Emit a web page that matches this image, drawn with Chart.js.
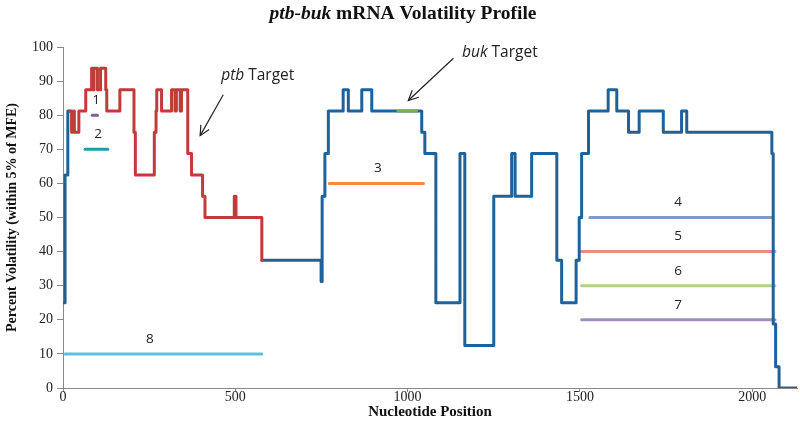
<!DOCTYPE html>
<html><head><meta charset="utf-8">
<script src="https://cdn.jsdelivr.net/npm/chart.js@4/dist/chart.umd.min.js"></script>
<style>html,body{margin:0;padding:0;background:#fff}#c{display:block}</style>
</head><body>
<canvas id="c" width="800" height="441"></canvas>
<script>
// ---- axis ticks ----
const xTickValues = [0, 500, 1000, 1500, 2000];
const yTickValues = [0, 10, 20, 30, 40, 50, 60, 70, 80, 90, 100];

// ---- volatility profile (step starts: position, level) ----
const leadPos = [0, 6, 14, 20];
const leadVal = [25, 62.5, 81.25, 81.25];

const ptbPos = [20, 25, 30, 33, 46, 66, 83, 88, 90, 100, 109, 124, 127, 165, 206, 210, 265, 270, 272, 286, 315, 325, 329, 340, 344, 362, 373, 405, 412, 497, 502, 577];
const ptbVal = [81.25, 75, 81.25, 75, 81.25, 87.5, 93.75, 87.5, 93.75, 87.5, 93.75, 87.5, 81.25, 87.5, 75, 62.5, 75, 81.25, 87.5, 81.25, 87.5, 81.25, 87.5, 81.25, 87.5, 68.75, 62.5, 56.25, 50, 56.25, 50, 37.5];

const restPos = [577, 749, 752, 760, 770, 813, 828, 867, 896, 1041, 1050, 1082, 1152, 1166, 1250, 1302, 1312, 1360, 1433, 1447, 1489, 1498, 1505, 1525, 1582, 1607, 1641, 1672, 1742, 1795, 1810, 2057, 2061, 2068, 2078, 2129];
const restVal = [37.5, 31.25, 56.25, 68.75, 81.25, 87.5, 81.25, 87.5, 81.25, 75, 68.75, 25, 68.75, 12.5, 56.25, 68.75, 56.25, 68.75, 37.5, 25, 37.5, 50, 68.75, 81.25, 87.5, 81.25, 75, 81.25, 75, 81.25, 75, 68.75, 18.75, 6.25, 0, 0];

const bukPos = [972, 1026];
const bukVal = [81.25, 81.25];

// ---- numbered regions ----
const regionNames = ['1', '2', '3', '4', '5', '6', '7', '8'];
const regionStart = [85, 64, 773, 1529, 1505, 1505, 1505, 6];
const regionEnd = [100, 130, 1046, 2057, 2066, 2066, 2066, 577];
const regionLevel = [80, 70, 60, 50, 40, 30, 20, 10];
const regionLabelPos = [96, 102, 914, 1785, 1785, 1785, 1785, 252];
const regionColors = ['#7d60a0', '#1f9bab', '#f5893d', '#7f9bc8', '#ee8b88', '#b3cf8c', '#a18ebd', '#62bfdc'];

// ---- annotations ----
const ptbArrowFrom = [465, 86], ptbArrowTo = [398, 74], ptbTextAt = [459, 91.5];
const bukArrowFrom = [1133, 96.7], bukArrowTo = [1002, 84.3], bukTextAt = [1158, 98.5];

const pts = (xs, ys) => xs.map((x, i) => ({ x: x, y: ys[i] }));
const BLUE = '#1f629a', RED = '#c23b3b', GREEN = '#82aa4e';

const datasets = [];
const lineStyle = { pointRadius: 0, borderWidth: 3, stepped: true, fill: false, borderJoinStyle: 'round', borderCapStyle: 'round' };
datasets.push(Object.assign({ label: 'lead', data: pts(leadPos, leadVal), borderColor: BLUE, order: 1 }, lineStyle));
datasets.push(Object.assign({ label: 'rest', data: pts(restPos, restVal), borderColor: BLUE, order: 1 }, lineStyle));
datasets.push(Object.assign({ label: 'ptb', data: pts(ptbPos, ptbVal), borderColor: RED, order: 0 }, lineStyle));
datasets.push(Object.assign({ label: 'buk', data: pts(bukPos, bukVal), borderColor: GREEN, order: -1 }, lineStyle));
regionNames.forEach((n, i) => {
  datasets.push({ label: 'region ' + n, data: [{ x: regionStart[i], y: regionLevel[i] }, { x: regionEnd[i], y: regionLevel[i] }],
    borderColor: regionColors[i], borderWidth: 3, pointRadius: 0, borderCapStyle: 'round', order: 2 });
});

function drawRuns(ctx, runs, x, y, align) {
  let total = 0;
  runs.forEach(r => { ctx.font = r.font; r.w = ctx.measureText(r.text).width; total += r.w; });
  let cx = align === 'center' ? x - total / 2 : x;
  ctx.textAlign = 'left';
  runs.forEach(r => { ctx.font = r.font; ctx.fillText(r.text, cx, y); cx += r.w; });
}
function arrow(ctx, x1, y1, x2, y2) {
  ctx.beginPath(); ctx.moveTo(x1, y1); ctx.lineTo(x2, y2); ctx.stroke();
  const a = Math.atan2(y2 - y1, x2 - x1), L = 11, s = 0.45;
  ctx.beginPath();
  ctx.moveTo(x2 - L * Math.cos(a - s), y2 - L * Math.sin(a - s));
  ctx.lineTo(x2, y2);
  ctx.lineTo(x2 - L * Math.cos(a + s), y2 - L * Math.sin(a + s));
  ctx.stroke();
}

const textPlugin = {
  id: 'texts',
  afterDraw(chart) {
    const { ctx } = chart, x = chart.scales.x, y = chart.scales.y;
    const px = v => x.getPixelForValue(v), py = v => y.getPixelForValue(v);
    ctx.save();
    ctx.fillStyle = '#111';
    ctx.textBaseline = 'alphabetic';
    drawRuns(ctx, [
      { text: 'ptb-buk', font: 'italic bold 19.5px "Liberation Serif"' },
      { text: ' mRNA Volatility Profile', font: 'bold 19.5px "Liberation Serif"' }
    ], 403, 19, 'center');
    ctx.textBaseline = 'middle';
    ctx.fillStyle = '#222';
    regionNames.forEach((n, i) => {
      ctx.font = '13.5px "Open Sans"'; ctx.textAlign = 'center';
      ctx.fillText(n, px(regionLabelPos[i]), py(regionLevel[i]) - 15);
    });
    ctx.textBaseline = 'middle';
    drawRuns(ctx, [
      { text: 'ptb', font: 'italic 15.5px "Open Sans"' },
      { text: ' Target', font: '15.5px "Open Sans"' }
    ], px(ptbTextAt[0]), py(ptbTextAt[1]), 'left');
    drawRuns(ctx, [
      { text: 'buk', font: 'italic 15.5px "Open Sans"' },
      { text: ' Target', font: '15.5px "Open Sans"' }
    ], px(bukTextAt[0]), py(bukTextAt[1]), 'left');
    ctx.strokeStyle = '#222'; ctx.lineWidth = 1.2;
    arrow(ctx, px(ptbArrowFrom[0]), py(ptbArrowFrom[1]), px(ptbArrowTo[0]), py(ptbArrowTo[1]));
    arrow(ctx, px(bukArrowFrom[0]), py(bukArrowFrom[1]), px(bukArrowTo[0]), py(bukArrowTo[1]));
    ctx.restore();
  }
};

new Chart(document.getElementById('c'), {
  type: 'line',
  data: { datasets: datasets },
  plugins: [textPlugin],
  options: {
    responsive: false, animation: false, devicePixelRatio: 1,
    layout: { padding: { top: 47, right: 3, left: 0, bottom: 20 } },
    plugins: { legend: { display: false }, tooltip: { enabled: false } },
    scales: {
      x: {
        type: 'linear', min: 0, max: 2130,
        afterBuildTicks: s => { s.ticks = xTickValues.map(v => ({ value: v })); },
        afterFit: s => { s.height = 33; },
        grid: { display: true, drawOnChartArea: false, drawTicks: true, tickLength: 4, color: '#888' },
        border: { color: '#888', width: 1 },
        ticks: { font: { family: 'Liberation Serif', size: 14 }, color: '#222', padding: -3, maxRotation: 0, callback: v => String(v) },
        title: { display: true, text: 'Nucleotide Position', font: { family: 'Liberation Serif', size: 15, weight: 'bold' }, color: '#111', padding: { top: 0, bottom: 0 } }
      },
      y: {
        type: 'linear', min: 0, max: 100,
        afterBuildTicks: s => { s.ticks = yTickValues.map(v => ({ value: v })); },
        afterFit: s => { s.width = 63; },
        grid: { display: true, drawOnChartArea: false, drawTicks: true, tickLength: 6, color: '#888' },
        border: { color: '#888', width: 1 },
        ticks: { font: { family: 'Liberation Serif', size: 14 }, color: '#222', padding: 4, callback: v => String(v) },
        title: { display: true, text: 'Percent Volatility (within 5% of MFE)', font: { family: 'Liberation Serif', size: 14, weight: 'bold' }, color: '#111', padding: { top: 4, bottom: 0 } }
      }
    }
  }
});
</script>
</body></html>
